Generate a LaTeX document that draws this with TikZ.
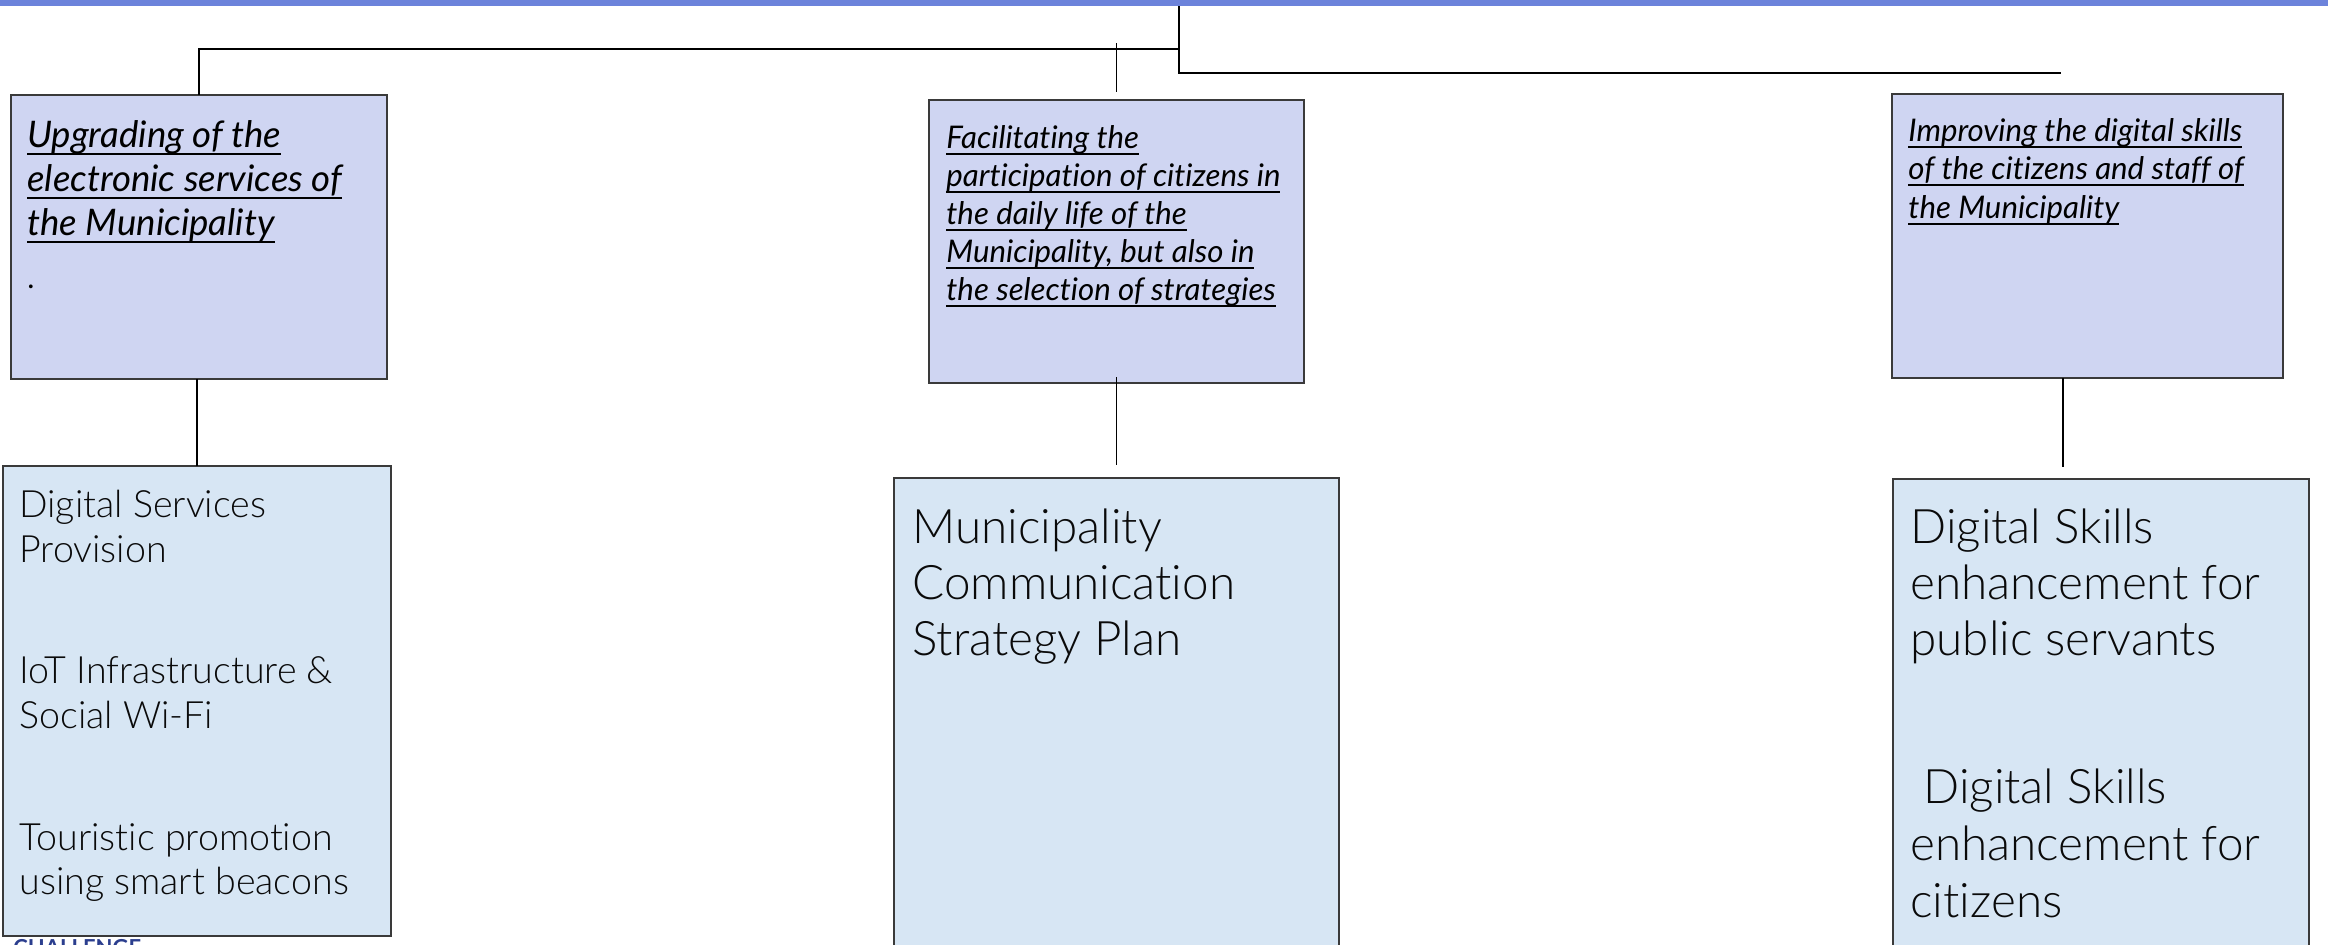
\documentclass[tikz,border=0pt]{standalone}
\usepackage{fontspec}
\setmainfont{Lato}[Ligatures=NoCommon]
\newfontfamily\latolight{Lato Light}[Ligatures=NoCommon]
\usetikzlibrary{calc}
\definecolor{topbar}{HTML}{6C83DB}
\definecolor{topfill}{HTML}{CFD5F2}
\definecolor{botfill}{HTML}{D7E6F4}
\definecolor{boxline}{HTML}{3A3A3A}
\definecolor{txtcol}{HTML}{0A0A0A}
\definecolor{chal}{HTML}{2B3E8E}
\newcommand\ulx[1]{\setbox0\hbox{#1}\rlap{\rule[-0.21em]{\wd0}{0.05em}}\box0}
\begin{document}
\begin{tikzpicture}[x=0.5pt,y=-0.5pt,
  topbox/.style={draw=boxline, line width=1pt, fill=topfill, inner sep=0pt, outer sep=0pt},
  botbox/.style={draw=boxline, line width=1pt, fill=botfill, inner sep=0pt, outer sep=0pt},
  conn/.style={draw=black, line width=0.75pt},
  ttl/.style={inner sep=0pt, anchor=base west, font=\itshape\fontsize{18.3}{22}\selectfont},
  ttls/.style={inner sep=0pt, anchor=base west, font=\itshape\fontsize{15.6}{19}\selectfont},
  item/.style={inner sep=0pt, anchor=base west, text=txtcol, font=\latolight\fontsize{18.8}{22}\selectfont},
  itemL/.style={inner sep=0pt, anchor=base west, text=txtcol, font=\latolight\fontsize{23.8}{28}\selectfont}]
\useasboundingbox (0,0) rectangle (2328,944);
\fill[topbar] (0,0) rectangle (2328,6);

% boxes
\node[topbox, minimum width=188pt, minimum height=142pt] (t1) at (199,237) {};
\node[topbox, minimum width=187.5pt, minimum height=141.5pt] (t2) at (1116.5,241.5) {};
\node[topbox, minimum width=195.5pt, minimum height=142pt] (t3) at (2087.5,236) {};
\node[botbox, minimum width=194pt, minimum height=235pt] (b1) at (197,701) {};
\node[botbox, minimum width=222.5pt, minimum height=246pt] (b2) at (1116.5,724) {};
\node[botbox, minimum width=208pt, minimum height=245.5pt] (b3) at (2101,724.5) {};

% connectors
\coordinate (root) at (1179,6);
\coordinate (jA) at (1179,49);
\coordinate (jB) at (1179,73);
\coordinate (rEnd) at (2061,73);
\coordinate (lTurn) at (t1.north |- jA);
\draw[conn] (root) -- (jB) -- (rEnd);
\draw[conn] (jA) -- (lTurn) -- (t1.north);
\coordinate (mTop) at ($(t2.north)+(0,-57)$);
\coordinate (mBot) at ($(t2.north)+(0,-8)$);
\draw[conn] (mTop) -- (mBot);
\draw[conn] (b1.north |- t1.south) -- (b1.north);
\coordinate (c2a) at ($(t2.south)+(0,-6)$);
\coordinate (c2b) at ($(b2.north)+(0,-13)$);
\draw[conn] (c2a) -- (c2b);
\coordinate (c3a) at ($(t3.south)+(-24.5,0)$);
\coordinate (c3b) at ($(b3.north)+(-38,-12)$);
\draw[conn] (c3a) -- (c3b);

% top texts
\node[ttl] (t1a) at (27,147) {\ulx{Upgrading of the}};
\node[ttl] (t1b) at (27,191) {\ulx{electronic services of}};
\node[ttl] (t1c) at (27,235) {\ulx{the Municipality}};
\node[inner sep=0pt, anchor=base west, font=\fontsize{15}{22}\selectfont] (t1d) at (27,288) {.};

\node[ttls] (t2a) at (946,148) {\ulx{Facilitating the}};
\node[ttls] (t2b) at (946,186) {\ulx{participation of citizens in}};
\node[ttls] (t2c) at (946,224) {\ulx{the daily life of the}};
\node[ttls] (t2d) at (946,262) {\ulx{Municipality, but also in}};
\node[ttls] (t2e) at (946,300) {\ulx{the selection of strategies}};

\node[ttls] (t3a) at (1908,141) {\ulx{Improving the digital skills}};
\node[ttls] (t3b) at (1908,179) {\ulx{of the citizens and staff of}};
\node[ttls] (t3c) at (1908,218) {\ulx{the Municipality}};

% bottom texts
\node[item] (b1a) at (19,517) {Digital Services};
\node[item] (b1b) at (19,562) {Provision};
\node[item] (b1c) at (19,683) {IoT Infrastructure \&};
\node[item] (b1d) at (19,728) {Social Wi-Fi};
\node[item] (b1e) at (19,850) {Touristic promotion};
\node[item] (b1f) at (19,894) {using smart beacons};

\node[itemL] (b2a) at (912,543) {Municipality};
\node[itemL] (b2b) at (912,599) {Communication};
\node[itemL] (b2c) at (912,655) {Strategy Plan};

\node[itemL] (b3a) at (1910,543) {Digital Skills};
\node[itemL] (b3b) at (1910,599) {enhancement for};
\node[itemL] (b3c) at (1910,655) {public servants};
\node[itemL] (b3d) at (1923,803) {Digital Skills};
\node[itemL] (b3e) at (1910,860) {enhancement for};
\node[itemL] (b3f) at (1910,917) {citizens};

% partially visible footer text
\node[inner sep=0pt, anchor=base west, text=chal, font=\bfseries\fontsize{11}{13}\selectfont] (chl) at (13,955) {CHALLENGE};
\end{tikzpicture}
\end{document}
